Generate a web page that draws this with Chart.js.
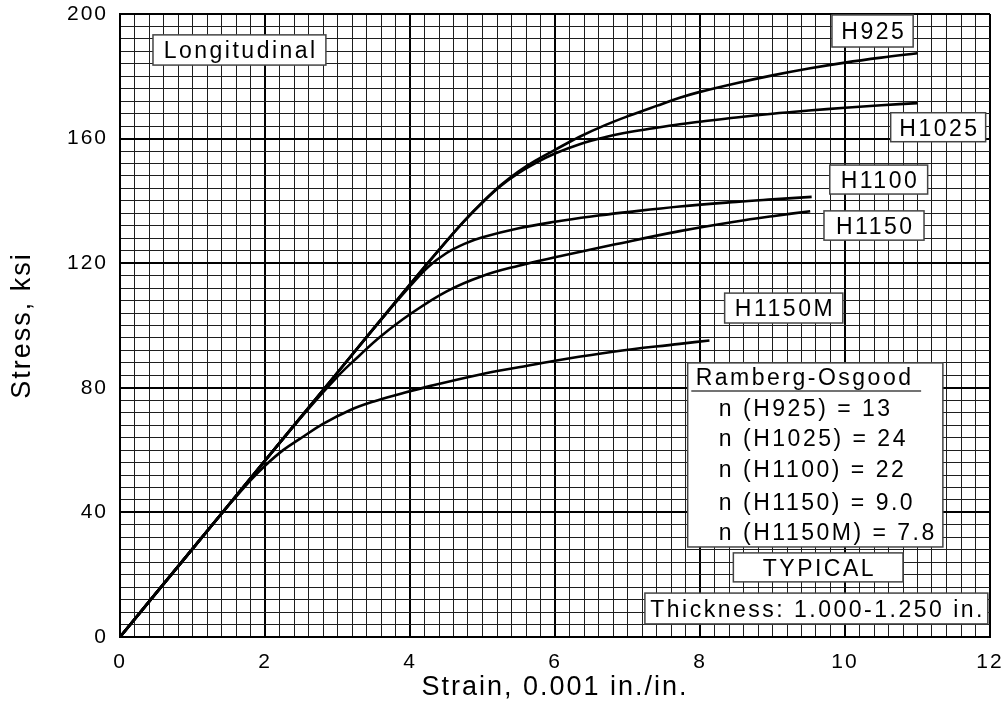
<!DOCTYPE html>
<html><head><meta charset="utf-8">
<script src="https://cdn.jsdelivr.net/npm/chart.js@4"></script>
<style>html,body{margin:0;padding:0;background:#fff}canvas{display:block}</style>
</head><body>
<canvas id="c" width="1005" height="707"></canvas>
<script>
// ---- data ----
const xTickLabels = ['0','2','4','6','8','10','12'];
const yTickLabels = ['0','40','80','120','160','200'];

const h925Strain  = [0,1,2,3,4,4.5,4.75,5,5.25,5.5,5.75,6,6.34,6.7,7.03,7.4,7.72,8,8.5,9,9.5,10,10.5,11];
const h925Stress  = [0,28.3,56.6,84.9,113.2,127,133.6,139.6,145,149.5,153.2,156.4,160.6,164.4,167.4,170.5,173.1,175,177.8,180.3,182.5,184.4,186,187.4];
const h1025Strain = [0,1,2,3,4,4.5,4.75,5,5.25,5.5,5.75,6,6.34,6.7,7.03,7.4,7.72,8,8.5,9,9.5,10,10.5,11];
const h1025Stress = [0,28.3,56.6,84.9,113.2,127,133.6,139.5,144.8,149,152.4,155.2,158.2,160.5,162.1,163.5,164.6,165.4,166.8,168,169,169.9,170.7,171.4];
const h1100Strain = [0,1,2,3,3.6,4,4.25,4.5,4.75,5,5.5,6,6.5,7,7.72,8.5,9,9.54];
const h1100Stress = [0,28.3,56.6,84.9,101.8,112.6,118.8,123.2,126.2,128.3,131.2,133.3,135,136.4,138.2,139.7,140.5,141.3];
const h1150Strain = [0,1,2,2.5,3,3.3,3.59,4,4.5,5,5.5,6,6.8,7.72,8.5,9,9.52];
const h1150Stress = [0,28.3,56.6,70.6,83.6,90.3,96.4,103.6,110.9,115.9,119.2,121.9,125.9,130.3,133.4,135.1,136.7];
const h1150MStrain = [0,1,1.5,1.8,2,2.25,2.48,2.8,3.17,3.5,3.86,4.3,4.97,5.5,6,6.8,7.72,8.13];
const h1150MStress = [0,28.3,42.3,50.3,55,60,63.6,68.4,72.8,75.6,78.0,80.7,84.3,86.6,88.7,91.6,94.1,95.2];

const rambergTitle = 'Ramberg-Osgood';
const rambergLines = ['n (H925) = 13','n (H1025) = 24','n (H1100) = 22','n (H1150) = 9.0','n (H1150M) = 7.8'];

// ---- annotation layout (data coordinates) ----
const labelBoxes = [
  {text:'Longitudinal', x0:0.455, x1:2.84,  y0:193.3, y1:183.6},
  {text:'H925',         x0:9.82,  x1:10.94, y0:199.7, y1:189.4},
  {text:'H1025',        x0:10.63, x1:11.94, y0:168.3, y1:159.0},
  {text:'H1100',        x0:9.79,  x1:11.14, y0:151.5, y1:142.2},
  {text:'H1150',        x0:9.71,  x1:11.09, y0:136.8, y1:127.4},
  {text:'H1150M',       x0:8.34,  x1:9.97,  y0:110.4, y1:100.8},
  {text:'TYPICAL',      x0:8.46,  x1:10.80, y0:27.0,  y1:17.7},
  {text:'Thickness: 1.000-1.250 in.', x0:7.24, x1:11.97, y0:14.1, y1:4.2}
];
const rambergBox = {x0:7.83, x1:11.35, y0:88.0, y1:28.9, titleX:7.94, titleY:80.9,
  ruleX0:7.88, ruleX1:11.05, ruleY:79.0, lineX:8.26, lineY:[70.9,61.3,51.4,40.8,31.1]};

function pts(xs, ys){ return xs.map((x,i)=>({x:x, y:ys[i]})); }
function ds(xs, ys){
  return {data: pts(xs,ys), borderColor:'#000', borderWidth:2.6, pointRadius:0,
          showLine:true, fill:false, tension:0.4};
}

const FONT = "'Liberation Sans', Arial, sans-serif";

const spacingPlugin = {
  id:'spacing',
  beforeUpdate(chart){ chart.ctx.letterSpacing = '2px'; },
  beforeDraw(chart){ chart.ctx.letterSpacing = '2px'; }
};

const annotPlugin = {
  id:'annot',
  afterDatasetsDraw(chart){
    const ctx = chart.ctx, xs = chart.scales.x, ys = chart.scales.y;
    const X = v => xs.getPixelForValue(v), Y = v => ys.getPixelForValue(v);
    ctx.save();
    ctx.letterSpacing = '2.5px';
    ctx.font = '23px ' + FONT;
    ctx.fillStyle = '#000';
    ctx.strokeStyle = '#444';
    ctx.lineWidth = 1.5;
    function box(x0,x1,y0,y1){
      const l=X(x0), r=X(x1), t=Y(y0), b=Y(y1);
      ctx.fillStyle='#fff'; ctx.fillRect(l,t,r-l,b-t);
      ctx.strokeRect(l,t,r-l,b-t);
      ctx.fillStyle='#000';
      return {l,r,t,b};
    }
    labelBoxes.forEach(bx=>{
      const p = box(bx.x0,bx.x1,bx.y0,bx.y1);
      ctx.textAlign='center'; ctx.textBaseline='alphabetic';
      ctx.fillText(bx.text, (p.l+p.r)/2 + 1.25, (p.t+p.b)/2 + 8.3);
    });
    const rb = rambergBox;
    box(rb.x0,rb.x1,rb.y0,rb.y1);
    ctx.textAlign='left'; ctx.textBaseline='alphabetic';
    ctx.fillText(rambergTitle, X(rb.titleX), Y(rb.titleY));
    ctx.beginPath(); ctx.moveTo(X(rb.ruleX0), Y(rb.ruleY)); ctx.lineTo(X(rb.ruleX1), Y(rb.ruleY)); ctx.stroke();
    rambergLines.forEach((t,i)=> ctx.fillText(t, X(rb.lineX), Y(rb.lineY[i])));
    ctx.restore();
  }
};

new Chart(document.getElementById('c'), {
  type:'scatter',
  data:{ datasets:[ ds(h925Strain,h925Stress), ds(h1025Strain,h1025Stress), ds(h1100Strain,h1100Stress),
                    ds(h1150Strain,h1150Stress), ds(h1150MStrain,h1150MStress) ] },
  options:{
    responsive:false, animation:false, devicePixelRatio:1,
    layout:{padding:{left:0, top:14, right:15, bottom:0}},
    plugins:{legend:{display:false}, tooltip:{enabled:false}},
    scales:{
      x:{ type:'linear', min:0, max:12,
          afterBuildTicks(s){ s.ticks = Array.from({length:61},(_,i)=>({value:i/5})); },
          afterFit(s){ s.height = 70; s.paddingLeft = 0; s.paddingRight = 0; },
          ticks:{ autoSkip:false, maxRotation:0, padding:13, color:'#000',
                  font:{family:FONT, size:21},
                  callback:(v,i)=> i%10===0 ? xTickLabels[i/10] : '' },
          grid:{ drawTicks:false, color:c=> c.index%10===0 ? '#000' : '#1e1e1e',
                 lineWidth:c=> c.index%10===0 ? 2 : 1 },
          border:{ display:true, color:'#000', width:2 },
          title:{ display:true, text:'Strain, 0.001 in./in.', color:'#000',
                  font:{family:FONT, size:27}, padding:{top:0,bottom:3} } },
      y:{ type:'linear', min:0, max:200,
          afterBuildTicks(s){ s.ticks = Array.from({length:51},(_,i)=>({value:i*4})); },
          afterFit(s){ s.width = 120; s.paddingTop = 0; s.paddingBottom = 0; },
          ticks:{ autoSkip:false, padding:12, color:'#000',
                  font:{family:FONT, size:21},
                  callback:(v,i)=> i%10===0 ? yTickLabels[i/10] : '' },
          grid:{ drawTicks:false, color:c=> c.index%10===0 ? '#000' : '#1e1e1e',
                 lineWidth:c=> c.index%10===0 ? 2 : 1 },
          border:{ display:true, color:'#000', width:2 },
          title:{ display:true, text:'Stress, ksi', color:'#000',
                  font:{family:FONT, size:27}, padding:{top:6,bottom:0} } }
    }
  },
  plugins:[spacingPlugin, annotPlugin]
});
</script>
</body></html>
